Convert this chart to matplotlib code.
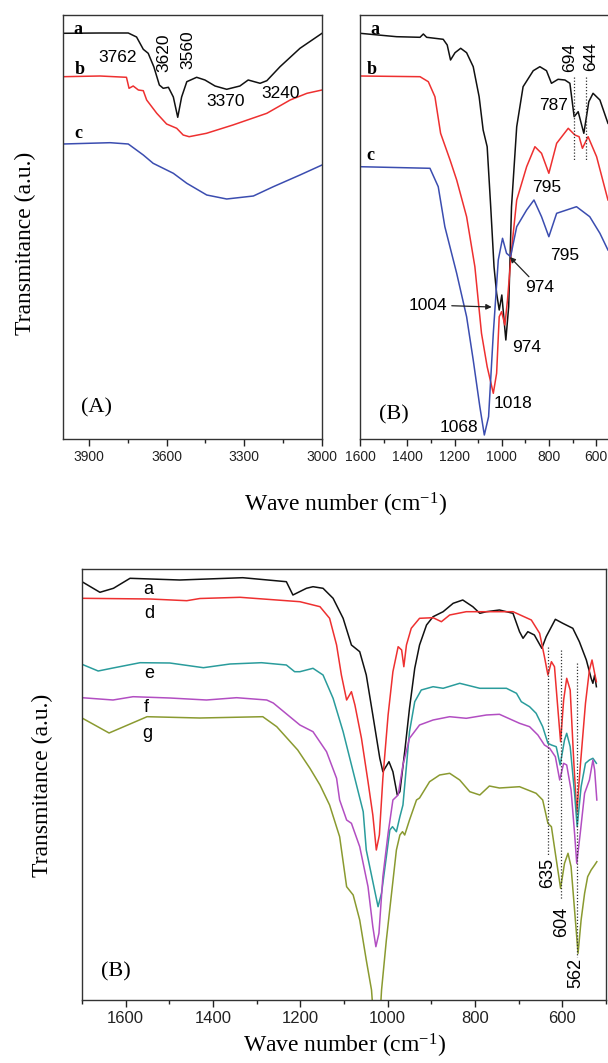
import matplotlib
matplotlib.use("Agg")
import matplotlib.pyplot as plt
from matplotlib.ticker import MultipleLocator

plt.rcParams['mathtext.fontset'] = 'custom'
plt.rcParams['mathtext.rm'] = 'Liberation Serif'

# ---------------- Panel (A): 4000-3000 cm-1 ----------------
A_a_w = [4000, 3857, 3748, 3716, 3690, 3671, 3649, 3628, 3613, 3593, 3574, 3557, 3542, 3522,
         3484, 3452, 3413, 3368, 3317, 3285, 3239, 3213, 3162, 3085, 3000]
A_a_t = [405.7, 406, 406, 402, 389.7, 385.7, 372, 354, 350.7, 351.7, 342, 321.7, 342, 357.3,
         361.7, 359, 353, 349.7, 353, 359, 355.7, 358.3, 372.3, 390.7, 405.7]
A_b_w = [4000, 3857, 3755, 3745, 3729, 3709, 3690, 3677, 3638, 3600, 3561, 3536, 3513, 3446,
         3344, 3213, 3123, 3058, 3000]
A_b_t = [362.3, 363, 361.7, 350.7, 353, 349, 348.3, 339, 325.7, 315, 310.7, 304, 302.3, 305.7,
         314, 325.7, 339, 345.7, 349]
A_c_w = [4000, 3818, 3748, 3690, 3652, 3574, 3522, 3445, 3368, 3265, 3188, 3085, 3000]
A_c_t = [295, 296.3, 295, 284, 275.7, 265.7, 255.7, 244, 240, 243, 252.3, 264, 274]

# ---------------- Panel (B) top: 1600-500 cm-1 ----------------
B_a_w = [1600, 1445, 1346, 1332, 1318, 1248, 1231, 1217, 1198, 1174, 1149, 1121, 1096, 1079,
         1062, 1047, 1033, 1022, 1011, 1000, 983, 971, 959, 937, 910, 867, 839, 811, 790, 762,
         733, 712, 694, 677, 653, 632, 614, 585, 551]
B_a_t = [405.7, 402.3, 401.7, 405, 401.7, 399.7, 394, 379, 386.3, 390.7, 386.3, 372.3, 342.3, 309,
         292.3, 232.3, 172.3, 145.7, 129, 144, 99, 132.3, 232.3, 312.3, 352.3, 368.3, 372.3, 368.3,
         355.7, 359.7, 359, 355.7, 322.3, 327.3, 305.7, 337.3, 345.7, 339, 315.7]
B_b_w = [1600, 1346, 1311, 1283, 1259, 1219, 1191, 1149, 1114, 1086, 1062, 1036, 1022, 1011,
         1001, 987, 976, 959, 937, 895, 860, 832, 801, 768, 719, 691, 673, 659, 635, 599, 551]
B_b_t = [363, 362.3, 357.3, 342.3, 305.7, 279, 259, 222.3, 172.3, 105.7, 72.3, 45.7, 65.7, 122.3,
         127.3, 114, 139, 189, 239, 272.3, 292.3, 285.7, 265.7, 295.7, 310.7, 304, 302.3, 290.7,
         302.3, 282.3, 239]
B_c_w = [1600, 1304, 1269, 1241, 1191, 1149, 1121, 1093, 1074, 1056, 1036, 1015, 997, 980, 963,
         937, 895, 864, 832, 801, 768, 684, 628, 585, 551]
B_c_t = [272.3, 270.7, 252.3, 212.3, 165.7, 122.3, 79, 32.3, 4, 22.3, 105.7, 179, 200.7, 185.7,
         182.3, 212.3, 229, 239, 222.3, 202.3, 225.7, 232.3, 222.3, 205.7, 189]

# ---------------- Bottom panel (B): 1700-500 cm-1 ----------------
C_a_w = [1700, 1659, 1628, 1590, 1476, 1332, 1232, 1217, 1186, 1171, 1148, 1125, 1102, 1083, 1064,
         1049, 1034, 1018, 1011, 997, 988, 978, 972, 961, 950, 938, 927, 911, 896, 873, 850, 828,
         805, 789, 774, 744, 713, 698, 690, 679, 664, 647, 637, 616, 599, 576, 561, 545, 534, 530,
         526, 522]
C_a_t = [418.3, 407.7, 411.7, 421.7, 420, 422.3, 418.3, 405, 411.7, 413.3, 411.7, 401.7, 381.7, 355,
         348.3, 325, 285, 241.7, 228.3, 238.3, 228.3, 205, 208.3, 248.3, 291.7, 331.7, 355, 375,
         383.3, 388.3, 396.7, 400, 393.3, 386.7, 388.3, 390, 386.7, 368.3, 361.7, 368.3, 365, 351.7,
         363.3, 380.7, 376.7, 371.7, 358.3, 340, 321.7, 316.7, 325, 313.3]
C_d_w = [1700, 1544, 1460, 1430, 1338, 1201, 1155, 1133, 1117, 1106, 1094, 1083, 1075, 1060, 1045,
         1034, 1026, 1019, 1011, 999, 988, 976, 968, 963, 957, 946, 927, 896, 877, 858, 820, 713,
         671, 652, 641, 633, 625, 618, 610, 604, 597, 590, 582, 574, 567, 559, 547, 538, 532, 526,
         522]
C_d_t = [401.7, 401, 399.3, 401.5, 402.7, 398.3, 393.3, 381.7, 355, 325, 300, 308.3, 295, 261.7,
         218.3, 185, 150, 165, 221.7, 285, 328.3, 353.3, 350, 333.3, 355, 371.7, 381.7, 382.3, 378.3,
         385, 388.3, 388.3, 380, 366.7, 343.3, 325, 338.3, 333.3, 290, 258.3, 300, 321.7, 310, 240,
         186.7, 233.3, 296.7, 330, 340, 326.7, 318.3]
C_e_w = [1700, 1663, 1629, 1567, 1499, 1422, 1361, 1289, 1232, 1213, 1201, 1171, 1148, 1125, 1102,
         1079, 1056, 1049, 1030, 1022, 1014, 1003, 995, 989, 980, 972, 965, 950, 938, 923, 896, 873,
         835, 789, 728, 705, 694, 675, 660, 645, 633, 625, 614, 605, 595, 590, 582, 572, 566, 557,
         547, 538, 530, 522]
C_e_t = [335.7, 329, 332, 337.3, 337, 332.3, 336, 337.3, 335, 328.3, 328.3, 331.7, 325, 301.7, 268.3,
         228.3, 188.3, 150, 110, 93.3, 107, 143.3, 170, 173.3, 168.3, 183.3, 195, 268.3, 298.3, 310,
         313.3, 311.7, 316.7, 311.7, 311.7, 306.7, 298.3, 293.3, 286.7, 273.3, 256.7, 255, 253.3,
         235, 260, 266.7, 253.3, 206.7, 173.3, 213.3, 236.7, 240, 241.7, 236.7]
C_f_w = [1700, 1629, 1583, 1499, 1415, 1346, 1277, 1262, 1201, 1171, 1140, 1117, 1110, 1094, 1083,
         1064, 1045, 1034, 1027, 1020, 1011, 999, 988, 976, 965, 950, 927, 896, 858, 820, 774, 744,
         698, 675, 656, 641, 629, 616, 606, 597, 590, 580, 572, 567, 559, 549, 538, 530, 526, 521]
C_f_t = [302.3, 300, 303.3, 302, 300, 302.3, 300, 297, 275, 268.3, 248.3, 221.7, 200, 180, 176.7,
         153.3, 113.3, 73.3, 53.3, 66.7, 123.3, 166.7, 200, 205, 235, 261.7, 275, 280, 283.3, 281.7,
         285, 285.7, 276.7, 273.3, 265, 255, 251.7, 243.3, 220, 236.7, 235, 210, 166.7, 136.7, 166.7,
         206.7, 220, 240, 230, 200]
C_g_w = [1700, 1638, 1551, 1430, 1286, 1254, 1206, 1178, 1155, 1133, 1110, 1094, 1079, 1064, 1049,
         1037, 1032, 1018, 1014, 1003, 991, 980, 972, 966, 961, 950, 934, 927, 904, 881, 858, 835,
         812, 789, 767, 744, 698, 660, 645, 633, 625, 616, 604, 595, 587, 580, 572, 564, 557, 549,
         542, 534, 526, 521]
C_g_t = [282, 267, 283.3, 282, 283.3, 273.3, 250, 231.7, 215, 195, 163.3, 113.3, 105, 80, 40, 10,
         -20, -20, 10, 60, 107, 150, 165, 168.3, 165, 180, 200, 202, 218.3, 225, 226.7, 220, 208.3,
         205, 214, 212, 213.3, 206.7, 200, 176.7, 173.3, 146.7, 111.7, 136.7, 146.7, 133.3, 90, 46.7,
         80, 106.7, 123.3, 130, 135, 138.3]

# Annotation values
A_peaks = ["3762", "3620", "3560", "3370", "3240"]
B_peaks = ["694", "644", "787", "795", "795", "974", "1004", "974", "1018", "1068"]
C_peaks = ["635", "604", "562"]
C_peak_lines = [633, 604, 567]

BLACK = "#111111"
RED = "#ee3030"
BLUE = "#3b4db0"
TEAL = "#2a9c9c"
MAGENTA = "#b24ec2"
OLIVE = "#8a9a30"
LW = 1.1
SERIF = "Liberation Serif"
SANS = "Liberation Sans"

fig = plt.figure(figsize=(6.08, 10.63), dpi=100)

def style(ax, fs):
    for s in ax.spines.values():
        s.set_color("#333333")
        s.set_linewidth(1.0)
    ax.set_yticks([])
    ax.tick_params(axis="x", which="major", direction="out", length=5, width=1,
                   labelsize=fs, pad=3, colors="#222222")
    ax.tick_params(axis="x", which="minor", direction="out", length=3, width=1, colors="#222222")
    for lab in ax.get_xticklabels():
        lab.set_fontfamily(SANS)

# ---- Panel A ----
axA = fig.add_axes([63/608, 1-439/1063, 259/608, 424/1063])
axA.plot(A_a_w, A_a_t, color=BLACK, lw=LW)
axA.plot(A_b_w, A_b_t, color=RED, lw=LW)
axA.plot(A_c_w, A_c_t, color=BLUE, lw=LW)
axA.set_xlim(4000, 3000)
axA.set_ylim(0, 424)
axA.xaxis.set_minor_locator(MultipleLocator(150))
axA.set_xticks([3900, 3600, 3300, 3000])
style(axA, 10)
for lbl, (x, y) in zip(["a", "b", "c"], [(3942, 409), (3934, 369), (3942, 306)]):
    axA.text(x, y, lbl, fontfamily=SERIF, fontweight="bold", fontsize=13, ha="center", va="center")
axA.text(3788, 382, A_peaks[0], fontfamily=SANS, fontsize=12.5, ha="center", va="center")
axA.text(3610, 386, A_peaks[1], fontfamily=SANS, fontsize=12.5, ha="center", va="center", rotation=90)
axA.text(3517, 389, A_peaks[2], fontfamily=SANS, fontsize=12.5, ha="center", va="center", rotation=90)
axA.text(3371, 337, A_peaks[3], fontfamily=SANS, fontsize=12.5, ha="center", va="center")
axA.text(3158, 346, A_peaks[4], fontfamily=SANS, fontsize=12.5, ha="center", va="center")
axA.text(3869, 31, "(A)", fontfamily=SERIF, fontsize=16, ha="center", va="center")

# ---- Panel B (top) ----
axB = fig.add_axes([360/608, 1-439/1063, 260/608, 424/1063])
axB.plot(B_a_w, B_a_t, color=BLACK, lw=LW)
axB.plot(B_b_w, B_b_t, color=RED, lw=LW)
axB.plot(B_c_w, B_c_t, color=BLUE, lw=LW)
axB.set_xlim(1600, 500)
axB.set_ylim(0, 424)
axB.set_xticks([1600, 1400, 1200, 1000, 800, 600])
axB.xaxis.set_minor_locator(MultipleLocator(100))
style(axB, 10)
for lbl, (x, y) in zip(["a", "b", "c"], [(1537, 409), (1551, 369), (1558, 284)]):
    axB.text(x, y, lbl, fontfamily=SERIF, fontweight="bold", fontsize=13, ha="center", va="center")
for xv in [694, 644]:
    axB.plot([xv, xv], [362, 279], color="#333333", lw=0.9, ls=(0, (1, 1.5)))
fsA = 12.5
axB.text(712, 382, B_peaks[0], fontfamily=SANS, fontsize=fsA, ha="center", va="center", rotation=90)
axB.text(623, 382, B_peaks[1], fontfamily=SANS, fontsize=fsA, ha="center", va="center", rotation=90)
axB.text(783, 334, B_peaks[2], fontfamily=SANS, fontsize=fsA, ha="center", va="center")
axB.text(811, 252, B_peaks[3], fontfamily=SANS, fontsize=fsA, ha="center", va="center")
axB.text(733, 184, B_peaks[4], fontfamily=SANS, fontsize=fsA, ha="center", va="center")
axB.annotate(B_peaks[5], xy=(966, 182), xytext=(839, 151), fontfamily=SANS, fontsize=fsA,
             ha="center", va="center",
             arrowprops=dict(arrowstyle="-|>", color="#222222", lw=0.9, shrinkA=1, shrinkB=0,
                             mutation_scale=8))
axB.annotate(B_peaks[6], xy=(1043, 132), xytext=(1311, 134), fontfamily=SANS, fontsize=fsA,
             ha="center", va="center",
             arrowprops=dict(arrowstyle="-|>", color="#222222", lw=0.9, shrinkA=1, shrinkB=0,
                             mutation_scale=8))
axB.text(895, 91, B_peaks[7], fontfamily=SANS, fontsize=fsA, ha="center", va="center")
axB.text(954, 36, B_peaks[8], fontfamily=SANS, fontsize=fsA, ha="center", va="center")
axB.text(1180, 12, B_peaks[9], fontfamily=SANS, fontsize=fsA, ha="center", va="center")
axB.text(1456, 24, "(B)", fontfamily=SERIF, fontsize=16, ha="center", va="center")

# ---- Bottom panel ----
axC = fig.add_axes([82/608, 1-1000/1063, 524/608, 431/1063])
axC.plot(C_a_w, C_a_t, color=BLACK, lw=LW)
axC.plot(C_d_w, C_d_t, color=RED, lw=LW)
axC.plot(C_e_w, C_e_t, color=TEAL, lw=LW)
axC.plot(C_f_w, C_f_t, color=MAGENTA, lw=LW)
axC.plot(C_g_w, C_g_t, color=OLIVE, lw=LW)
axC.set_xlim(1700, 500)
axC.set_ylim(0, 431)
axC.set_xticks([1600, 1400, 1200, 1000, 800, 600])
axC.xaxis.set_minor_locator(MultipleLocator(100))
style(axC, 12)
for lbl, (x, y) in zip(["a", "d", "e", "f", "g"],
                       [(1548, 411), (1546, 386), (1546, 326), (1554, 292), (1551, 267)]):
    axC.text(x, y, lbl, fontfamily=SANS, fontsize=13, ha="center", va="center")
for xv, (y0, y1) in zip(C_peak_lines, [(353, 145), (350, 100), (337, 43)]):
    axC.plot([xv, xv], [y0, y1], color="#333333", lw=0.9, ls=(0, (1, 1.5)))
for lbl, (x, y) in zip(C_peaks, [(633, 127), (602, 78), (568, 27)]):
    axC.text(x, y, lbl, fontfamily=SANS, fontsize=13, ha="center", va="center", rotation=90)
axC.text(1622, 28.5, "(B)", fontfamily=SERIF, fontsize=16, ha="center", va="center")

# ---- axis titles ----
fig.text(25/608, 1-243/1063, "Transmitance (a.u.)", fontfamily=SERIF, fontsize=17,
         rotation=90, ha="center", va="center")
fig.text(42/608, 1-785/1063, "Transmitance (a.u.)", fontfamily=SERIF, fontsize=17,
         rotation=90, ha="center", va="center")
fig.text(346/608, 1-505/1063, r"Wave number (cm$\mathregular{^{-1}}$)", fontfamily=SERIF,
         fontsize=17, ha="center", va="center")
fig.text(345/608, 1-1046/1063, r"Wave number (cm$\mathregular{^{-1}}$)", fontfamily=SERIF,
         fontsize=17, ha="center", va="center")

fig.savefig("out.png", dpi=100)
